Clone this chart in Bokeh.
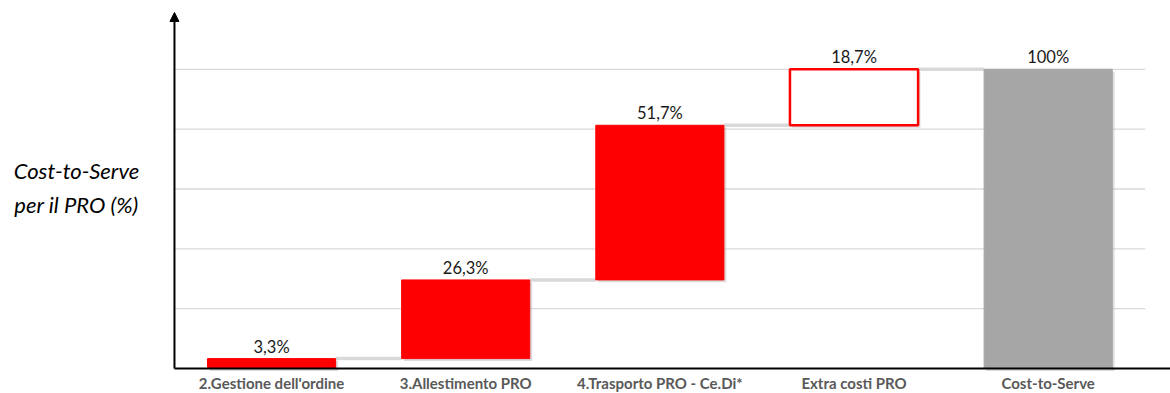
from bokeh.plotting import figure
from bokeh.models import Range1d, Arrow, NormalHead, ColumnDataSource, Label
from bokeh.core.properties import value
from bokeh.embed import file_html
from bokeh.resources import INLINE

# Waterfall data: cost components adding up to the total Cost-to-Serve
categories = ["2.Gestione dell'ordine", "3.Allestimento PRO", "4.Trasporto PRO - Ce.Di*",
              "Extra costi PRO", "Cost-to-Serve"]
values = [3.3, 26.3, 51.7, 18.7, 100.0]
value_labels = ["3,3%", "26,3%", "51,7%", "18,7%", "100%"]
grid_ticks = [20, 40, 60, 80, 100]

FONT = "Lato"
RED = "#FF0000"
GREY = "#A6A6A6"

# Step bottoms/tops: components stack cumulatively, the total starts at zero
xs = list(range(len(categories)))
bottoms, tops = [], []
running = 0.0
for i, v in enumerate(values):
    if i == len(values) - 1:
        bottoms.append(0.0)
        tops.append(v)
    else:
        bottoms.append(running)
        running += v
        tops.append(running)

fills = [RED, RED, RED, "white", GREY]
lines = [RED, RED, RED, RED, GREY]
line_widths = [1, 1, 1, 2.5, 1]

bars = ColumnDataSource(dict(x=xs, bottom=bottoms, top=tops, fill=fills, line=lines,
                             lw=line_widths, label=value_labels))
cats = ColumnDataSource(dict(x=xs, y=[0] * len(xs), name=categories))

# The plotting area covers the whole canvas; axes are drawn by hand so the
# category names and the title can sit in the margins.
X0, X1 = -1.396, 4.63
Y0, Y1 = -8.36, 123.0
AXIS_LEFT = -0.5
AXIS_TOP = 119
BAR_W = 0.66

p = figure(width=1170, height=393, x_range=Range1d(X0, X1), y_range=Range1d(Y0, Y1),
           output_backend="svg", toolbar_location=None,
           x_axis_location=None, y_axis_location=None,
           min_border=0)
p.outline_line_color = None
p.xgrid.visible = False
p.ygrid.visible = False

# horizontal gridlines
p.segment(x0=[AXIS_LEFT] * len(grid_ticks), y0=grid_ticks, x1=[4.5] * len(grid_ticks), y1=grid_ticks,
          line_color="#D9D9D9", line_width=1.3)

# connectors from each step to the next
cx0 = [x + BAR_W / 2 for x in xs[:-1]]
cx1 = [x + 1 - BAR_W / 2 for x in xs[:-1]]
cy = tops[:-1]
p.segment(x0=cx0, y0=cy, x1=cx1, y1=cy, line_color="#D9D9D9", line_width=3.5)

# soft shadow behind the bars
p.vbar(x=[x + 0.012 for x in xs], bottom=[b - 0.8 for b in bottoms], top=[t - 0.8 for t in tops],
       width=BAR_W, fill_color="#9a9a9a", fill_alpha=0.35, line_color=None)

p.vbar(x="x", bottom="bottom", top="top", width=BAR_W, source=bars,
       fill_color="fill", line_color="line", line_width="lw")

p.text(x="x", y="top", text="label", source=bars, text_align="center", text_baseline="bottom",
       y_offset=-2, text_font=value(FONT), text_font_size="16.5px", text_color="#1a1a1a")

# x axis baseline and category names
p.segment(x0=[AXIS_LEFT], y0=[0], x1=[X1], y1=[0], line_color="black", line_width=2)
p.text(x="x", y="y", text="name", source=cats, y_offset=15,
       text_align="center", text_baseline="middle",
       text_font=value(FONT), text_font_style="bold", text_font_size="15px",
       text_color="#595959")

# y axis arrow
p.add_layout(Arrow(end=NormalHead(size=9, fill_color="black", line_color="black"),
                   x_start=AXIS_LEFT, y_start=0, x_end=AXIS_LEFT, y_end=AXIS_TOP,
                   line_color="black", line_width=2))

# y axis title, set horizontally to the left of the axis
p.add_layout(Label(x=76, y=206, x_units="screen", y_units="screen",
                   text="Cost-to-Serve\nper il PRO (%)", text_align="center",
                   text_baseline="middle", text_font=FONT, text_font_style="italic",
                   text_font_size="22px", text_color="black", text_line_height=1.25))

open("out.html", "w").write(file_html(p, INLINE))
